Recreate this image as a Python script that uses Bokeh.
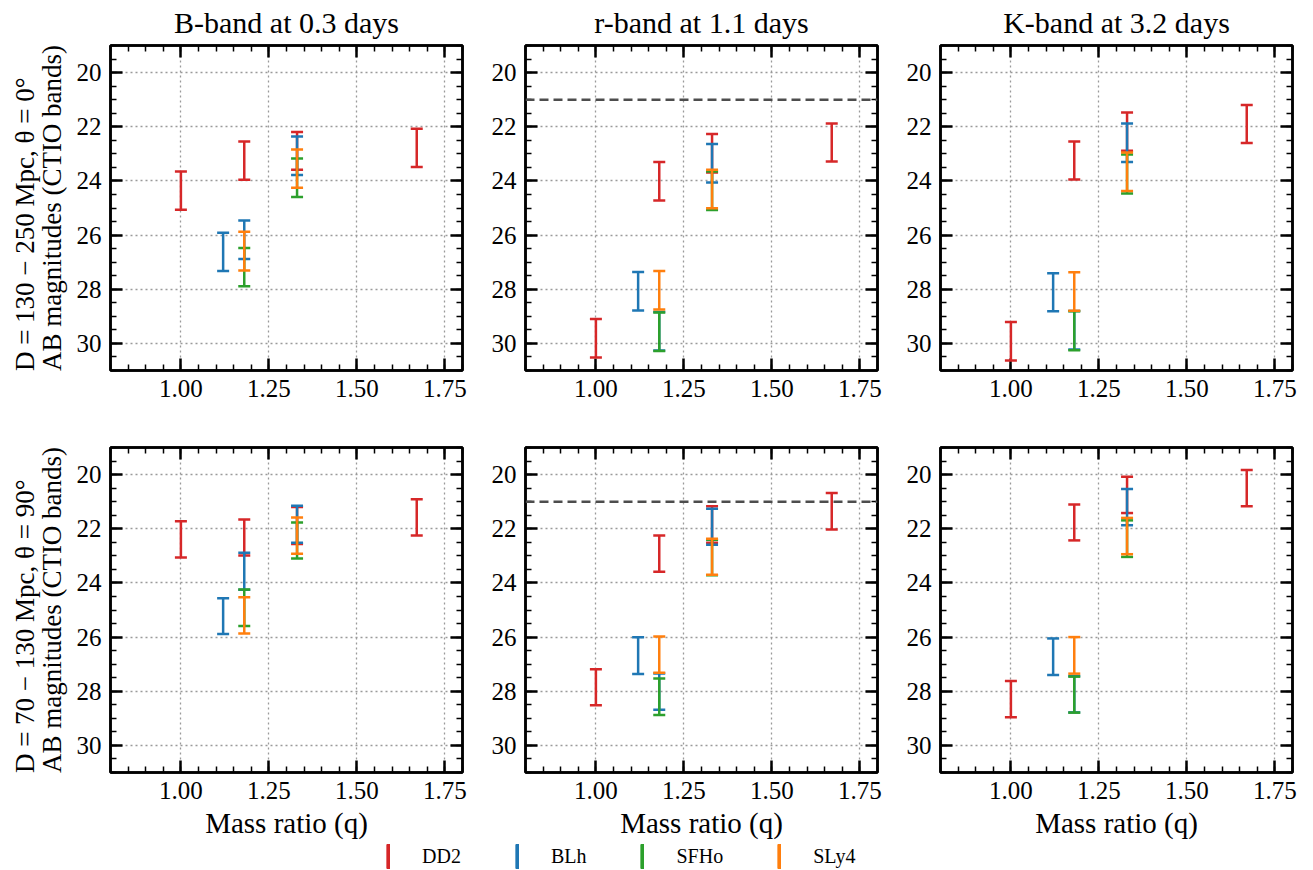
import math
from bokeh.plotting import figure
from bokeh.layouts import column, row
from bokeh.models import (Range1d, Whisker, TeeHead, ColumnDataSource, Span, Title,
                          SingleIntervalTicker, LinearAxis, PrintfTickFormatter,
                          Legend, LegendItem, CustomLabelingPolicy)
from bokeh.embed import file_html
from bokeh.resources import INLINE

FONT = "Liberation Serif"

# ---------------- data ----------------
eos_names = ["DD2", "BLh", "SFHo", "SLy4"]
eos_colors = ["#d62728", "#1f77b4", "#2ca02c", "#ff7f0e"]

mass_ratio = {
    "DD2": [1.00, 1.18, 1.33, 1.67],
    "BLh": [1.12, 1.18, 1.33],
    "SFHo": [1.18, 1.33],
    "SLy4": [1.18, 1.33],
}

band_titles = ["B-band at 0.3 days", "r-band at 1.1 days", "K-band at 3.2 days"]
row_label_1 = ["D = 130 − 250 Mpc, θ = 0°", "D = 70 − 130 Mpc, θ = 90°"]
row_label_2 = "AB magnitudes (CTIO bands)"
x_label = "Mass ratio (q)"
r_band_limit = 21.0

# theta = 0 deg, nearer distance (bright end) and farther distance (faint end)
B_top_bright = {"DD2": [23.65, 22.54, 22.19, 22.07], "BLh": [25.91, 25.46, 22.36],
                "SFHo": [26.48, 23.17], "SLy4": [25.88, 22.84]}
B_top_faint = {"DD2": [25.06, 23.96, 23.59, 23.49], "BLh": [27.33, 26.88, 23.78],
               "SFHo": [27.89, 24.59], "SLy4": [27.31, 24.25]}
r_top_bright = {"DD2": [29.10, 23.30, 22.27, 21.88], "BLh": [27.36, 28.84, 22.64],
                "SFHo": [28.86, 23.65], "SLy4": [27.33, 23.59]}
r_top_faint = {"DD2": [30.52, 24.72, 23.69, 23.28], "BLh": [28.78, 30.26, 24.06],
               "SFHo": [30.28, 25.07], "SLy4": [28.75, 25.01]}
K_top_bright = {"DD2": [29.21, 22.54, 21.47, 21.20], "BLh": [27.41, 28.80, 21.88],
                "SFHo": [28.81, 23.02], "SLy4": [27.37, 22.95]}
K_top_faint = {"DD2": [30.63, 23.95, 22.89, 22.60], "BLh": [28.81, 30.22, 23.30],
               "SFHo": [30.25, 24.46], "SLy4": [28.79, 24.37]}

# theta = 90 deg
B_bot_bright = {"DD2": [21.72, 21.66, 21.20, 20.91], "BLh": [24.57, 22.89, 21.15],
                "SFHo": [24.24, 21.77], "SLy4": [24.53, 21.58]}
B_bot_faint = {"DD2": [23.06, 22.99, 22.56, 22.25], "BLh": [25.89, 24.25, 22.52],
               "SFHo": [25.59, 23.10], "SLy4": [25.87, 22.92]}
r_bot_bright = {"DD2": [27.19, 22.25, 21.17, 20.68], "BLh": [26.01, 27.34, 21.26],
                "SFHo": [27.53, 22.41], "SLy4": [25.98, 22.37]}
r_bot_faint = {"DD2": [28.52, 23.59, 22.52, 22.03], "BLh": [27.36, 28.68, 22.59],
               "SFHo": [28.88, 23.72], "SLy4": [27.32, 23.70]}
K_bot_bright = {"DD2": [27.62, 21.10, 20.08, 19.83], "BLh": [26.05, 27.44, 20.53],
                "SFHo": [27.46, 21.69], "SLy4": [26.00, 21.60]}
K_bot_faint = {"DD2": [28.96, 22.43, 21.42, 21.17], "BLh": [27.40, 28.78, 21.87],
               "SFHo": [28.79, 23.04], "SLy4": [27.35, 22.94]}

panels = [
    [(B_top_bright, B_top_faint), (r_top_bright, r_top_faint), (K_top_bright, K_top_faint)],
    [(B_bot_bright, B_bot_faint), (r_bot_bright, r_bot_faint), (K_bot_bright, K_bot_faint)],
]

NO_LABELS = """
for (const i of indices) { indices.unset(i) }
return indices
"""


def style_axis(ax, ticker, show_labels=True):
    ax.ticker = ticker
    ax.axis_line_color = "black"
    ax.axis_line_width = 2.5
    ax.major_tick_in = 12
    ax.major_tick_out = 0
    ax.minor_tick_in = 6
    ax.minor_tick_out = 0
    ax.major_tick_line_width = 2.5
    ax.minor_tick_line_width = 1.5
    ax.major_tick_line_color = "black"
    ax.minor_tick_line_color = "black"
    ax.major_label_text_font = FONT
    ax.major_label_text_color = "black"
    if show_labels:
        ax.major_label_text_font_size = "25px"
        ax.major_label_standoff = 9
    else:
        ax.major_label_text_font_size = "1px"
        ax.major_label_standoff = 0
        ax.major_label_policy = CustomLabelingPolicy(code=NO_LABELS)


def make_panel(ri, ci):
    bright, faint = panels[ri][ci]
    p = figure(frame_width=352, frame_height=325,
               x_range=Range1d(0.8, 1.8), y_range=Range1d(31, 19),
               output_backend="svg", toolbar_location=None,
               min_border_left=110 if ci == 0 else 53, min_border_right=10,
               min_border_top=45 if ri == 0 else 40,
               min_border_bottom=37 if ri == 0 else 68)
    p.background_fill_color = "white"
    p.border_fill_color = "white"
    p.outline_line_color = "black"
    p.outline_line_width = 2.5

    xa = p.xaxis[0]
    ya = p.yaxis[0]
    xt = SingleIntervalTicker(interval=0.25, num_minor_ticks=5)
    yt = SingleIntervalTicker(interval=2, num_minor_ticks=4)
    style_axis(xa, xt)
    xa.formatter = PrintfTickFormatter(format="%.2f")
    style_axis(ya, yt)
    top_ax = LinearAxis()
    style_axis(top_ax, SingleIntervalTicker(interval=0.25, num_minor_ticks=5), show_labels=False)
    p.add_layout(top_ax, "above")
    right_ax = LinearAxis()
    style_axis(right_ax, SingleIntervalTicker(interval=2, num_minor_ticks=4), show_labels=False)
    p.add_layout(right_ax, "right")

    p.xgrid.ticker = xt
    p.ygrid.ticker = yt
    p.grid.grid_line_color = "#9a9a9a"
    p.grid.grid_line_width = 1.3
    p.grid.grid_line_dash = "2 3"

    if ri == 0:
        p.title.text = band_titles[ci]
        p.title.align = "center"
        p.title.text_font = FONT
        p.title.text_font_size = "30px"
        p.title.text_font_style = "normal"
        p.title.text_color = "black"
        p.title.standoff = 6
    if ri == 1:
        xa.axis_label = x_label
        xa.axis_label_text_font = FONT
        xa.axis_label_text_font_size = "29px"
        xa.axis_label_text_font_style = "normal"
        xa.axis_label_text_color = "black"
        xa.axis_label_standoff = 5
    if ci == 0:
        t = Title(text=row_label_1[ri] + "\n" + row_label_2, align="center",
                  text_font=FONT, text_font_size="27px",
                  text_font_style="normal", text_color="black", standoff=12,
                  text_line_height=0.92)
        p.add_layout(t, "left")

    if ci == 1:
        p.add_layout(Span(location=r_band_limit, dimension="width", line_color="#4d4d4d",
                          line_width=2.5, line_dash="9 5", level="annotation"))

    for name, color in zip(eos_names, eos_colors):
        src = ColumnDataSource(dict(q=mass_ratio[name], lo=bright[name], hi=faint[name]))
        w = Whisker(source=src, base="q", lower="lo", upper="hi", dimension="height",
                    line_color=color, line_width=2.5, level="annotation",
                    lower_head=TeeHead(size=12, line_color=color, line_width=2.5),
                    upper_head=TeeHead(size=12, line_color=color, line_width=2.5))
        p.add_layout(w)
    return p


grid_rows = []
for ri in range(2):
    grid_rows.append(row(*[make_panel(ri, ci) for ci in range(3)]))

# legend strip (placeholder renderers only carry the legend style)
lf = figure(width=1302, height=30, x_range=Range1d(0, 1), y_range=Range1d(0, 1),
            output_backend="svg", toolbar_location=None,
            x_axis_location=None, y_axis_location=None, min_border=0)
lf.grid.visible = False
lf.outline_line_color = None
items = []
for name, color in zip(eos_names, eos_colors):
    r = lf.vbar(x=[math.nan], top=[math.nan], width=0.1, fill_color=color, line_color=color)
    items.append(LegendItem(label=name, renderers=[r]))
leg = Legend(items=items, orientation="horizontal", location=(386, 0),
             glyph_width=4, glyph_height=30, label_standoff=32, spacing=54,
             label_text_font=FONT, label_text_font_size="20px", label_text_color="black",
             border_line_color=None, background_fill_alpha=0, padding=0, margin=0)
lf.add_layout(leg)

layout = column(grid_rows[0], grid_rows[1], lf)
open("out.html", "w").write(file_html(layout, INLINE))
